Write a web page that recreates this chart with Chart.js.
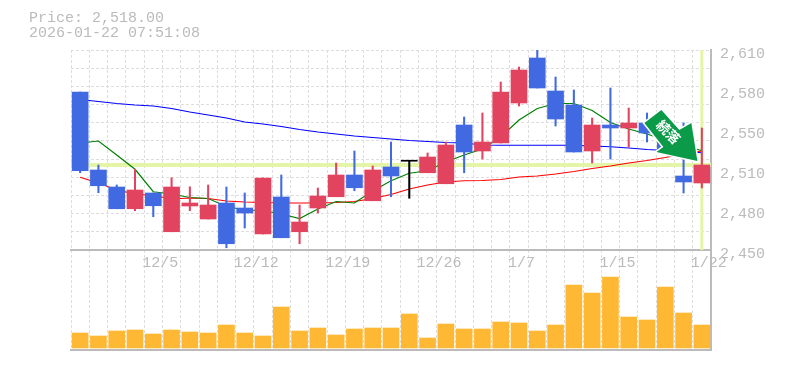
<!DOCTYPE html>
<html>
<head>
<meta charset="utf-8">
<style>
  body { margin: 0; background: #fff; }
</style>
</head>
<body>
<canvas id="myChart" width="785" height="370"></canvas>
<script src="https://cdn.jsdelivr.net/npm/chart.js@4"></script>
<script>
const titleLines = ["Price: 2,518.00", "2026-01-22 07:51:08"];
const lastPrice = 2518;
const dates = ["", "", "", "", "12/5", "", "", "", "", "12/12", "", "", "", "", "12/19", "", "", "", "", "12/26", "", "", "", "", "1/7", "", "", "", "", "1/15", "", "", "", "", "1/22"];

const opens = [2576.4, 2514, 2500.4, 2483, 2495.6, 2464.6, 2485.2, 2474.8, 2487.6, 2483.6, 2462.8, 2492.4, 2464.6, 2483.6, 2492.6, 2510, 2489.4, 2516.4, 2521, 2511.8, 2503, 2550, 2529.2, 2535.6, 2567.6, 2603.6, 2577.2, 2566, 2529.2, 2550, 2547.6, 2551.6, 2544.4, 2509.2, 2503.6];
const closes = [2513.4, 2501.4, 2483, 2498, 2485.4, 2500.4, 2487.6, 2486, 2455, 2479.6, 2507.6, 2459.8, 2472.4, 2493.2, 2510, 2499.8, 2514, 2509.2, 2521, 2524.4, 2534, 2528.4, 2536.4, 2576.4, 2594, 2579.6, 2554.8, 2528.4, 2550, 2547.6, 2551.6, 2543.6, 2530, 2504.4, 2518];
const highs = [2576.4, 2518, 2502, 2514.6, 2495.6, 2507.8, 2500.6, 2502, 2500.4, 2495.6, 2507.6, 2510, 2486, 2499.6, 2519.6, 2529.2, 2517.2, 2536.4, 2521, 2527.6, 2536.4, 2556.4, 2559.6, 2584.4, 2596.4, 2610, 2588.4, 2578, 2555.6, 2579.6, 2563.6, 2559.6, 2550, 2551.6, 2547.6];
const lows = [2511.8, 2495.8, 2483, 2481.4, 2476.6, 2464.6, 2481.4, 2474.8, 2451.8, 2467.6, 2462.8, 2459.8, 2455, 2479.6, 2492.6, 2497.4, 2489.4, 2492.6, 2491.4, 2511.8, 2503, 2511.8, 2522.8, 2535.6, 2565.2, 2579.6, 2549.2, 2528.4, 2519.6, 2522.8, 2532.4, 2536.4, 2528, 2495.6, 2499.6];

const maShort = [2535.6, 2537.2, 2526, 2514.6, 2496.6, 2494.8, 2492, 2491.2, 2484.8, 2482, 2481.6, 2478.8, 2475.2, 2482.8, 2488.8, 2487.6, 2497.2, 2505.4, 2511.4, 2513.4, 2520.4, 2526, 2530.8, 2540.4, 2554, 2563.2, 2567.2, 2567.2, 2561.6, 2552, 2546.8, 2542.8, 2538, 2534, 2529.4];
const maMid = [2508.2, 2503.6, 2498, 2494.8, 2493.6, 2490.8, 2491.6, 2491.2, 2489.2, 2488.4, 2488, 2487.6, 2487.6, 2487.6, 2488, 2488.8, 2491.2, 2494.4, 2498.8, 2502, 2504.4, 2505.4, 2505.6, 2506.4, 2508.4, 2509.2, 2510.8, 2512.8, 2515.2, 2517.2, 2519.6, 2521.6, 2524, 2526.8, 2529.2];
const maLong = [2570.4, 2568.8, 2567.2, 2566, 2565.2, 2563.2, 2560.4, 2558, 2555.6, 2552.4, 2550.8, 2548.8, 2546.4, 2544.4, 2542.8, 2541.2, 2540, 2538.8, 2537.6, 2536.8, 2536, 2535.6, 2534, 2533.8, 2533.8, 2533.8, 2533.8, 2533.8, 2533.2, 2532.6, 2531.6, 2530.4, 2529.6, 2528.8, 2527.8];

const volumes = [1500, 1200, 1700, 1800, 1400, 1800, 1600, 1500, 2300, 1500, 1200, 4100, 1700, 2000, 1300, 1900, 2000, 2000, 3400, 1000, 2400, 1900, 1900, 2600, 2500, 1700, 2300, 6300, 5500, 7100, 3100, 2800, 6100, 3500, 2300];

const priceTicks = [2450, 2482, 2514, 2546, 2578, 2610];
const gridTicks = [2450, 2464.5, 2479.1, 2493.6, 2508.2, 2522.7, 2537.3, 2551.8, 2566.4, 2580.9, 2595.5, 2610];

const RED = "rgb(226, 68, 96)";
const BLUE = "rgb(65, 105, 225)";
const GREY = "#bbbbbb";
const HILITE = "#e4f5a8";
const FONT = "'Liberation Mono', monospace";

function candleColor(i) {
  if (closes[i] > opens[i]) return RED;
  if (closes[i] < opens[i]) return BLUE;
  return "#000000";
}
const candleColors = opens.map((o, i) => candleColor(i));

// light green cross at the latest price and date, under everything else
const crossPlugin = {
  id: "cross",
  beforeDatasetsDraw(chart) {
    const { ctx, chartArea, scales } = chart;
    const py = scales.y.getPixelForValue(lastPrice);
    const px = scales.x.getPixelForValue(dates.length - 1);
    ctx.save();
    ctx.fillStyle = HILITE;
    ctx.fillRect(chartArea.left, py - 2, chartArea.width, 4);
    ctx.fillRect(px - 1.5, chartArea.top, 3, scales.y.getPixelForValue(2450) - chartArea.top);
    ctx.restore();
  }
};

// signal arrow that points at the last candle
const arrowPlugin = {
  id: "arrow",
  afterDatasetsDraw(chart) {
    const { ctx, scales } = chart;
    const tipX = scales.x.getPixelForValue(dates.length - 1) - 4.5;
    const tipY = scales.y.getPixelForValue(lastPrice) - 4;
    const outline = [[0, 0], [-41, -9], [-34, -14], [-53, -38], [-36, -51], [-18, -31], [-6, -38]];
    ctx.save();
    ctx.beginPath();
    outline.forEach((p, i) => {
      if (i === 0) ctx.moveTo(tipX + p[0], tipY + p[1]);
      else ctx.lineTo(tipX + p[0], tipY + p[1]);
    });
    ctx.closePath();
    ctx.strokeStyle = "#ffffff";
    ctx.lineWidth = 3;
    ctx.stroke();
    ctx.fillStyle = "#0a9a48";
    ctx.fill();
    ctx.translate(tipX - 29, tipY - 29);
    ctx.rotate(Math.PI / 4);
    ctx.fillStyle = "#ffffff";
    ctx.font = "bold 13.5px 'Noto Sans CJK JP'";
    ctx.textAlign = "center";
    ctx.textBaseline = "middle";
    ctx.fillText("続落", 0, 0);
    ctx.restore();
  }
};

const config = {
  type: "bar",
  data: {
    labels: dates,
    datasets: [
      { label: "body", order: 1, grouped: false, yAxisID: "y", barThickness: 16, minBarLength: 1,
        data: opens.map((o, i) => [o, closes[i]]), backgroundColor: candleColors },
      { label: "wick", order: 2, grouped: false, yAxisID: "y", barThickness: 1.4,
        data: lows.map((l, i) => [l, highs[i]]), backgroundColor: candleColors },
      { type: "line", label: "short", order: 3, yAxisID: "y", data: maShort,
        borderColor: "#008000", borderWidth: 1.2, pointRadius: 0, tension: 0 },
      { type: "line", label: "mid", order: 4, yAxisID: "y", data: maMid,
        borderColor: "#ff0000", borderWidth: 1.2, pointRadius: 0, tension: 0 },
      { type: "line", label: "long", order: 5, yAxisID: "y", data: maLong,
        borderColor: "#0000ff", borderWidth: 1.2, pointRadius: 0, tension: 0 },
      { label: "volume", order: 6, grouped: false, yAxisID: "vol", barThickness: 16,
        data: volumes, backgroundColor: "#ffb833" }
    ]
  },
  options: {
    responsive: false,
    animation: false,
    layout: { padding: { left: 29 } },
    plugins: {
      legend: { display: false },
      tooltip: { enabled: false },
      title: {
        display: true,
        align: "start",
        text: titleLines,
        color: GREY,
        font: { family: FONT, size: 15, weight: "normal", lineHeight: 1 },
        padding: { top: 11, bottom: 9 }
      }
    },
    scales: {
      x: {
        position: { y: 2450 },
        offset: true,
        grid: { offset: true, color: "#dddddd", drawTicks: false },
        border: { color: GREY, width: 2, dash: [3, 2] },
        ticks: {
          autoSkip: false, maxRotation: 0, align: "start", labelOffset: -11, padding: 4,
          color: GREY, font: { family: FONT, size: 15 }
        }
      },
      xBottom: {
        axis: "x",
        type: "category",
        position: "bottom",
        labels: dates,
        offset: true,
        grid: { display: false },
        border: { color: GREY, width: 2 },
        ticks: { display: false },
        afterFit(s) { s.height = 20; }
      },
      y: {
        position: "right",
        min: 2370,
        max: 2610,
        grid: { display: false, drawTicks: false },
        border: { color: GREY, width: 2 },
        afterBuildTicks(s) { s.ticks = priceTicks.map(v => ({ value: v })); },
        ticks: {
          padding: 9,
          labelOffset: 4,
          color: GREY,
          font: { family: FONT, size: 15 },
          callback: v => (Math.round(v / 10) * 10).toLocaleString("en-US")
        },
        afterFit(s) { s.width = 74; }
      },
      yGrid: {
        position: "left",
        min: 2370,
        max: 2610,
        grid: { color: "#dddddd", drawTicks: false },
        border: { display: false, dash: [3, 2] },
        afterBuildTicks(s) { s.ticks = gridTicks.map(v => ({ value: v })); },
        ticks: { display: false },
        afterFit(s) { s.width = 42; }
      },
      vol: { display: false, position: "left", min: -200, max: 29800 }
    }
  },
  plugins: [crossPlugin, arrowPlugin]
};

const myChart = new Chart(document.getElementById("myChart"), config);
</script>
</body>
</html>
